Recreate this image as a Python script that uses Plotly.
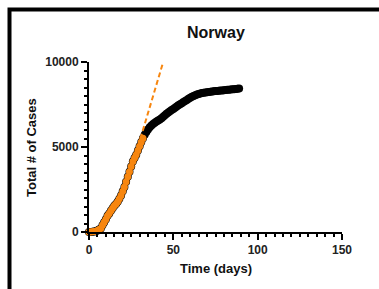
import plotly.graph_objects as go

# ---- data ----
days = list(range(0, 90))
cases = [1, 4, 15, 25, 45, 90, 150, 210, 400, 580,
         750, 950, 1090, 1250, 1400, 1550, 1650, 1780, 1950, 2150,
         2400, 2650, 2950, 3250, 3550, 3850, 4150, 4350, 4550, 4800,
         5050, 5300, 5520, 5720, 5880, 6030, 6160, 6270, 6360, 6430,
         6500, 6560, 6620, 6690, 6780, 6870, 6950, 7030, 7100, 7170,
         7240, 7310, 7380, 7450, 7515, 7580, 7645, 7705, 7770, 7840,
         7900, 7955, 8005, 8050, 8090, 8120, 8150, 8170, 8190, 8205,
         8220, 8235, 8250, 8262, 8275, 8288, 8298, 8308, 8318, 8330,
         8342, 8355, 8365, 8375, 8385, 8393, 8402, 8412, 8422, 8435]
fit_cut = 33               # orange (fitted) portion: days 0..32
fit_days = [21, 44]
fit_cases = [2340, 10000]

title = "Norway"
x_title = "Time (days)"
y_title = "Total # of Cases"
x_ticks = [0, 50, 100, 150]
y_ticks = [0, 5000, 10000]
y_ticktext = ["0", "5000", "10000"]

ORANGE = "#f7860f"

fig = go.Figure()
fig.add_trace(go.Scatter(x=days, y=cases, mode="markers",
                         marker=dict(color="black", size=8, line=dict(width=0)),
                         cliponaxis=False, showlegend=False))
fig.add_trace(go.Scatter(x=days[:fit_cut], y=cases[:fit_cut], mode="markers",
                         marker=dict(color=ORANGE, size=7, line=dict(width=0)),
                         cliponaxis=False, showlegend=False))
fig.add_trace(go.Scatter(x=fit_days, y=fit_cases, mode="lines",
                         line=dict(color=ORANGE, width=2, dash="5px,3px"),
                         cliponaxis=False, showlegend=False))

L, R, T, B = 89, 37, 62, 57
W, H = 379, 289
pw, ph = W - L - R, H - T - B

tickfont = dict(family="Liberation Sans, Arial, sans-serif", size=12, color="#222", weight="bold")
fig.update_layout(
    width=W, height=H,
    margin=dict(l=L, r=R, t=T, b=B),
    paper_bgcolor="white", plot_bgcolor="white",
    xaxis=dict(range=[0, 150], tickvals=x_ticks, showgrid=False, zeroline=False,
               showline=True, linecolor="black", linewidth=2,
               ticks="outside", ticklen=6, tickwidth=2, tickcolor="black",
               tickfont=tickfont, automargin=False,
               minor=dict(dtick=5, ticks="outside", ticklen=3, tickwidth=1.5, tickcolor="black", showgrid=False)),
    yaxis=dict(range=[0, 10000], tickvals=y_ticks, ticktext=y_ticktext, showgrid=False, zeroline=False,
               showline=True, linecolor="black", linewidth=2,
               ticks="outside", ticklen=6, tickwidth=2, tickcolor="black",
               tickfont=tickfont, automargin=False,
               minor=dict(dtick=500, ticks="outside", ticklen=3, tickwidth=1.5, tickcolor="black", showgrid=False)),
    shapes=[dict(type="rect", xref="paper", yref="paper",
                 x0=(9.5 - L) / pw, x1=2.0,
                 y0=-2.0, y1=(H - B - 9.5) / ph,
                 line=dict(color="black", width=4), fillcolor="rgba(0,0,0,0)")],
    annotations=[
        dict(text=title, xref="paper", yref="paper", x=0.5, y=(H - B - 33) / ph,
             xanchor="center", yanchor="middle", showarrow=False,
             font=dict(family="Liberation Sans, Arial, sans-serif", size=16, color="#111", weight="bold")),
        dict(text=x_title, xref="paper", yref="paper", x=0.5, y=(H - B - 268) / ph,
             xanchor="center", yanchor="middle", showarrow=False,
             font=dict(family="Liberation Sans, Arial, sans-serif", size=13, color="#111", weight="bold")),
        dict(text=y_title, xref="paper", yref="paper", x=(31 - L) / pw, y=(H - B - 148) / ph,
             xanchor="center", yanchor="middle", showarrow=False, textangle=-90,
             font=dict(family="Liberation Sans, Arial, sans-serif", size=13, color="#111", weight="bold")),
    ],
)

fig.write_html("out.html", config={"displayModeBar": False},
               post_script="document.body.style.margin='0px';document.body.style.overflow='hidden';")
